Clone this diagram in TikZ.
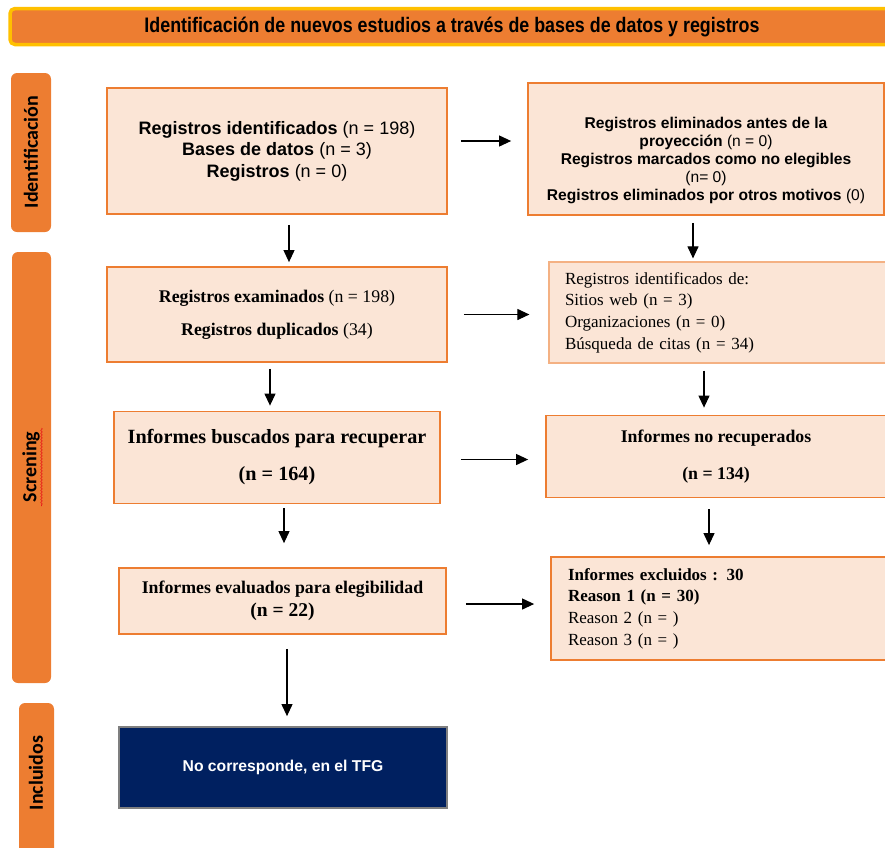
\documentclass[tikz,border=0pt]{standalone}
\usepackage{fontspec}
\setmainfont{Liberation Serif}
\newfontfamily\arialf{Liberation Sans}
\newfontfamily\narrowf[FakeStretch=0.85]{Liberation Sans}
\newfontfamily\calibrif{Carlito}
\usetikzlibrary{arrows.meta,decorations.pathmorphing}
\definecolor{orng}{HTML}{ED7D31}
\definecolor{peach}{HTML}{FBE5D6}
\definecolor{gold}{HTML}{FFC000}
\definecolor{navyb}{HTML}{002060}
\definecolor{lightorng}{HTML}{F4B183}
\definecolor{gborder}{HTML}{7F7F7F}
\begin{document}
\begin{tikzpicture}[x=1pt,y=-1pt,
  box/.style={draw=orng,fill=peach,line width=1.8pt,inner sep=0pt,align=center},
  lbox/.style={draw=orng,fill=peach,line width=1.8pt,inner ysep=0pt,align=left},
  side/.style={fill=orng,rounded corners=6pt},
  sidetext/.style={rotate=90,font=\calibrif\bfseries\fontsize{20}{24}\selectfont},
  arr/.style={-{Triangle[length=12pt,width=11pt]},line width=1.1pt,black}]
\useasboundingbox (0,0) rectangle (885,847);
\clip (0,0) rectangle (885,847);
% header
\node[draw=gold,fill=orng,line width=3.5pt,rounded corners=5pt,minimum width=885pt,minimum height=36pt,inner sep=0pt] (head) at (452.5,26.5) {};
\node[font=\narrowf\bfseries\fontsize{21}{24}\selectfont] (headt) at (452,27) {Identificación de nuevos estudios a través de bases de datos y registros};
% side bars
\node[side,minimum width=40pt,minimum height=159pt] (s1) at (31,152.5) {};
\node[sidetext] (s1t) at (31,152) {Identificación};
\node[side,minimum width=39pt,minimum height=431pt] (s2) at (31.5,467.5) {};
\node[sidetext] (s2t) at (31,467) {Screning};
\draw[red!80!gray,line width=0.6pt,decorate,decoration={snake,amplitude=0.8pt,segment length=3pt}] (41.5,428) -- (41.5,506);
\node[side,minimum width=35pt,minimum height=160pt] (s3) at (36.5,783) {};
\node[sidetext] (s3t) at (36,773) {Incluidos};
% boxes
\node[box,minimum width=340pt,minimum height=126pt,font=\arialf\fontsize{18}{21.5}\selectfont] (A) at (277,151)
 {\textbf{Registros identificados} (n = 198)\\ \textbf{Bases de datos} (n = 3)\\ \textbf{Registros} (n = 0)};
\node[box,minimum width=356pt,minimum height=132pt] (B) at (706,149) {};
\node[align=center,font=\arialf\fontsize{15.6}{18.2}\selectfont] (Bt) at (706,160.5)
 {\textbf{Registros eliminados antes de la}\\ \textbf{proyección} (n = 0)\\ \textbf{Registros marcados como no elegibles}\\ (n= 0)\\ \textbf{Registros eliminados por otros motivos} (0)};
\node[box,minimum width=340pt,minimum height=95pt,font=\fontsize{17.8}{33}\selectfont] (C) at (277,314.5)
 {\textbf{Registros examinados} (n = 198)\\ \textbf{Registros duplicados} (34)};
\node[lbox,draw=lightorng,line width=1.2pt,minimum height=101pt,inner xsep=16pt,text width=311pt,font=\fontsize{17}{21.7}\selectfont] (D) at (720.5,312.5)
 {Registros identificados de:\\ Sitios web (n = 3)\\ Organizaciones (n = 0)\\ Búsqueda de citas (n = 34)};
\node[box,minimum width=326pt,minimum height=92pt,font=\bfseries\fontsize{20.2}{37}\selectfont] (E) at (277,457.5)
 {Informes buscados para recuperar\\ (n = 164)};
\node[box,minimum width=340pt,minimum height=82pt,font=\bfseries\fontsize{17.8}{37}\selectfont] (F) at (716,456.5)
 {Informes no recuperados\\ (n = 134)};
\node[box,minimum width=327pt,minimum height=66pt,font=\bfseries\fontsize{17.8}{23}\selectfont] (G) at (282.5,601)
 {Informes evaluados para elegibilidad\\ {\fontsize{19.5}{23}\selectfont (n = 22)}};
\node[lbox,minimum height=103pt,inner xsep=17pt,text width=305pt,font=\fontsize{17}{21.7}\selectfont] (H) at (720.5,608.5)
 {\textbf{Informes excluidos : 30}\\ \textbf{Reason 1 (n = 30)}\\ Reason 2 (n = )\\ Reason 3 (n = )};
\node[draw=gborder,fill=navyb,line width=1.8pt,minimum width=328pt,minimum height=81pt,text=white,font=\arialf\bfseries\fontsize{15.7}{18}\selectfont] (I) at (283,767.5)
 {No corresponde, en el TFG};
% arrows
\draw[arr,shorten <=13pt,shorten >=16pt] ([yshift=10pt]A.east) -- ([yshift=10pt]A.east -| B.west);
\draw[arr,shorten <=10pt,shorten >=4pt] ([xshift=12pt]A.south) -- ([xshift=12pt]A.south |- C.north);
\draw[arr,shorten <=7pt,shorten >=3pt] ([xshift=-13pt]B.south) -- ([xshift=-13pt]B.south |- D.north);
\draw[arr,shorten <=16pt,shorten >=19pt] (C.east) -- (C.east -| D.west);
\draw[arr,shorten <=6pt,shorten >=5pt] ([xshift=-7pt]C.south) -- ([xshift=-7pt]C.south |- E.north);
\draw[arr,shorten <=7pt,shorten >=7pt] ([xshift=-16.5pt]D.south) -- ([xshift=-16.5pt]D.south |- F.north);
\draw[arr,shorten <=20pt,shorten >=17pt] ([yshift=-2pt]E.east) -- ([yshift=-2pt]E.east -| F.west);
\draw[arr,shorten <=4pt,shorten >=24pt] ([xshift=7pt]E.south) -- ([xshift=7pt]E.south |- G.north);
\draw[arr,shorten <=11pt,shorten >=11pt] ([xshift=-7pt]F.south) -- ([xshift=-7pt]F.south |- H.north);
\draw[arr,shorten <=19pt,shorten >=16pt] ([yshift=-3pt]G.east) -- ([yshift=-3pt]G.east -| H.west);
\draw[arr,shorten <=14pt,shorten >=10pt] ([xshift=4.5pt]G.south) -- ([xshift=4.5pt]G.south |- I.north);
\end{tikzpicture}
\end{document}
